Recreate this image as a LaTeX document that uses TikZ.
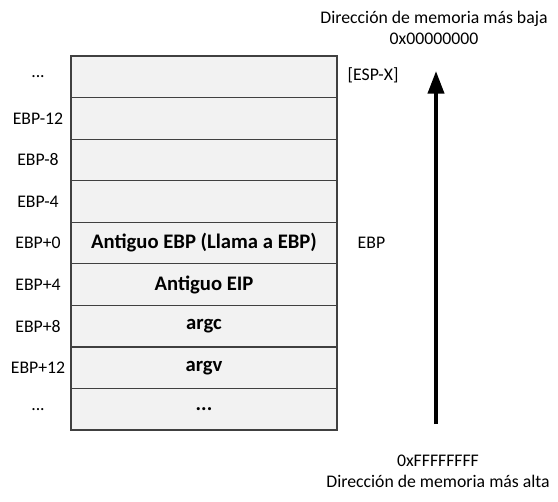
\documentclass[tikz,border=0pt]{standalone}
\usepackage{fontspec}
\setmainfont{Carlito}
\usetikzlibrary{arrows.meta}
\tikzset{
  cell/.style={rectangle, draw=black!75, line width=0.9pt, fill=black!5, minimum width=199.5pt, minimum height=31.2pt, inner sep=0pt, font=\fontsize{15.5}{17}\selectfont\bfseries},
  offs/.style={font=\fontsize{13.3}{15}\selectfont},
  side/.style={anchor=west, font=\fontsize{13.3}{15}\selectfont},
  addr/.style={align=center, font=\fontsize{13.3}{16}\selectfont}
}
\begin{document}
\begin{tikzpicture}[x=0.75pt, y=-0.75pt]
  \useasboundingbox (0,0) rectangle (558,501);
  % Nodes
  \node (c0) at (204,76.8) [cell] {};
  \node (c1) at (204,118.3) [cell] {};
  \node (c2) at (204,159.9) [cell] {};
  \node (c3) at (204,201.4) [cell] {};
  \node (c4) at (204,243.0) [cell] {Antiguo EBP (Llama a EBP)};
  \node (c5) at (204,284.6) [cell] {Antiguo EIP};
  \node (c6) at (204,326.1) [cell] {argc};
  \node (c7) at (204,367.7) [cell] {argv};
  \node (c8) at (204,409.2) [cell] {...};

  \node (o0) at (38,76.8) [offs] {...};
  \node (o1) at (38,118.3) [offs] {EBP-12};
  \node (o2) at (38,159.9) [offs] {EBP-8};
  \node (o3) at (38,201.4) [offs] {EBP-4};
  \node (o4) at (38,243.0) [offs] {EBP+0};
  \node (o5) at (38,284.6) [offs] {EBP+4};
  \node (o6) at (38,326.1) [offs] {EBP+8};
  \node (o7) at (38,367.7) [offs] {EBP+12};
  \node (o8) at (38,409.2) [offs] {...};

  \node (espx) at (343,75) [side] {[ESP-X]};
  \node (ebp) at (353,243) [side] {EBP};

  \node (low) at (434,28) [addr] {Dirección de memoria más baja\\0x00000000};
  \node (high) at (438,471) [addr] {0xFFFFFFFF\\Dirección de memoria más alta};

  \coordinate (arrbot) at (436,424);
  \coordinate (arrtop) at (436,71);

  % Edges
  \draw [line width=3pt, -{Triangle[width=12pt,length=17pt]}] (arrbot) -- (arrtop);
\end{tikzpicture}
\end{document}
